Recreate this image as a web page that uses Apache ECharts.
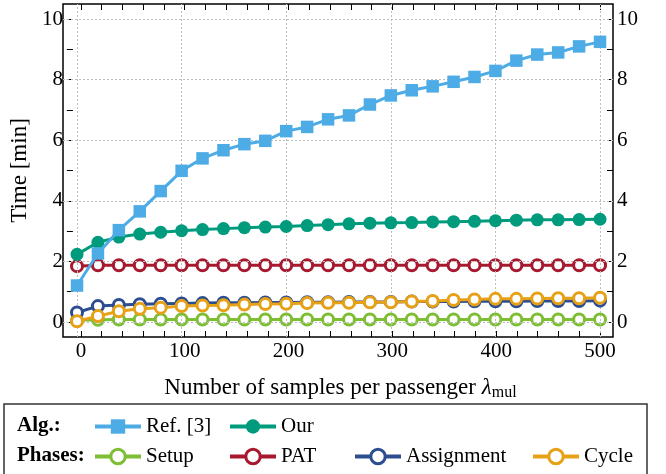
<!DOCTYPE html>
<html>
<head>
<meta charset="utf-8">
<script src="https://cdn.jsdelivr.net/npm/echarts@6/dist/echarts.min.js"></script>
<style>
  html, body { margin: 0; padding: 0; background: #fff; }
  #chart { width: 666px; height: 474px; }
</style>
</head>
<body>
<div id="chart"></div>
<script>
// samples per passenger
const samples = [0, 20, 40, 60, 80, 100, 120, 140, 160, 180, 200, 220, 240, 260, 280, 300, 320, 340, 360, 380, 400, 420, 440, 460, 480, 500];

// time in minutes
const refTimes = [1.2, 2.26, 3.03, 3.65, 4.32, 4.99, 5.4, 5.67, 5.87, 5.98, 6.3, 6.44, 6.69, 6.82, 7.18, 7.48, 7.65, 7.78, 7.93, 8.09, 8.29, 8.63, 8.83, 8.9, 9.1, 9.25];
const ourTimes = [2.23, 2.63, 2.8, 2.9, 2.96, 3.01, 3.05, 3.08, 3.11, 3.13, 3.15, 3.18, 3.21, 3.24, 3.26, 3.27, 3.28, 3.3, 3.31, 3.32, 3.34, 3.36, 3.37, 3.37, 3.38, 3.39];
const setupTimes = [0.05, 0.07, 0.08, 0.08, 0.08, 0.08, 0.08, 0.08, 0.08, 0.08, 0.08, 0.08, 0.08, 0.08, 0.08, 0.08, 0.08, 0.08, 0.08, 0.08, 0.08, 0.08, 0.08, 0.08, 0.08, 0.08];
const patTimes = [1.84, 1.87, 1.87, 1.87, 1.87, 1.87, 1.87, 1.87, 1.87, 1.87, 1.87, 1.87, 1.87, 1.87, 1.87, 1.87, 1.87, 1.87, 1.87, 1.87, 1.87, 1.87, 1.87, 1.87, 1.87, 1.87];
const assignTimes = [0.31, 0.52, 0.56, 0.58, 0.6, 0.61, 0.62, 0.63, 0.63, 0.64, 0.64, 0.65, 0.65, 0.66, 0.66, 0.66, 0.67, 0.67, 0.67, 0.68, 0.68, 0.68, 0.69, 0.69, 0.69, 0.7];
const cycleTimes = [0.02, 0.19, 0.35, 0.43, 0.47, 0.52, 0.54, 0.55, 0.57, 0.59, 0.6, 0.62, 0.63, 0.63, 0.65, 0.65, 0.67, 0.69, 0.72, 0.74, 0.76, 0.76, 0.77, 0.78, 0.78, 0.8];

// labelled values of the axes
const xTicks = [0, 100, 200, 300, 400, 500];
const yTicks = [0, 2, 4, 6, 8, 10];

const FONT = 'Liberation Serif';
const colors = {
    ref: '#4dace6',
    our: '#009b7d',
    setup: '#7dbe35',
    pat: '#a6192e',
    assign: '#2c4e91',
    cycle: '#e6a117'
};

const zip = (ys) => samples.map((x, i) => [x, ys[i]]);

const chart = echarts.init(document.getElementById('chart'), null, {renderer: 'canvas'});

function hollow(name, ys, color, z) {
    return {
        name: name,
        type: 'line',
        data: zip(ys),
        xAxisIndex: 0, yAxisIndex: 0,
        z: z,
        symbol: 'circle',
        symbolSize: 11,
        lineStyle: {color: color, width: 3},
        itemStyle: {color: '#fff', borderColor: color, borderWidth: 3},
        emphasis: {disabled: true}
    };
}

const tickStyle = {color: '#000', width: 1};

// frame grid: holds the data, a bit wider than 0..500 / 0..10
const X_MIN = -13.4, X_MAX = 512.4, Y_MIN = -0.5, Y_MAX = 10.5;

// tick grid: exactly 0..500 / 0..10, axes shifted out onto the frame
function tickX(pos, labels) {
    return {
        type: 'value', gridIndex: 1, position: pos, offset: 15,
        min: xTicks[0], max: xTicks[xTicks.length - 1], interval: 100,
        axisLine: {show: false, onZero: false},
        axisTick: {show: true, inside: true, length: 6, lineStyle: tickStyle},
        minorTick: {show: true, splitNumber: 5, length: 6, lineStyle: tickStyle},
        axisLabel: {show: labels, color: '#000', fontFamily: FONT, fontSize: 21, margin: 4},
        splitLine: {show: false}
    };
}

function tickY(pos, offset) {
    return {
        type: 'value', gridIndex: 1, position: pos, offset: offset,
        min: yTicks[0], max: yTicks[yTicks.length - 1], interval: 2,
        axisLine: {show: false, onZero: false},
        axisTick: {show: true, inside: true, length: 6, lineStyle: tickStyle},
        minorTick: {show: true, splitNumber: 2, length: 6, lineStyle: tickStyle},
        axisLabel: {color: '#000', fontFamily: FONT, fontSize: 21, margin: 4},
        splitLine: {show: false}
    };
}

const xBottom = tickX('bottom', true);
xBottom.name = 'Number of samples per passenger {l|λ}{s|mul}';
xBottom.nameLocation = 'middle';
xBottom.nameGap = 37;
xBottom.nameTextStyle = {
    color: '#000', fontFamily: FONT, fontSize: 23,
    rich: {
        l: {fontFamily: FONT, fontSize: 23, fontStyle: 'italic', color: '#000'},
        s: {fontFamily: FONT, fontSize: 16, color: '#000', padding: [11, 0, 0, 0]}
    }
};

const yLeft = tickY('left', 14);
yLeft.name = 'Time [min]';
yLeft.nameLocation = 'middle';
yLeft.nameGap = 20;
yLeft.nameTextStyle = {color: '#000', fontFamily: FONT, fontSize: 23};

const legendText = {color: '#000', fontFamily: FONT, fontSize: 21};
function legendAt(name, left, top, open) {
    return {
        data: [name], left: left, top: top,
        itemWidth: 46, itemHeight: 18, itemGap: 0,
        padding: 0,
        textStyle: legendText,
        lineStyle: {width: 4},
        itemStyle: {borderWidth: open ? 3 : 0},
        selectedMode: false
    };
}

// dashed grid at the labelled values, drawn by the axes' scales
const gridLines = xTicks.map(v => ({xAxis: v})).concat(yTicks.map(v => ({yAxis: v})));

const option = {
    animation: false,
    backgroundColor: '#fff',
    grid: [
        {left: 63, right: 53, top: 4, bottom: 137, containLabel: false,
         show: true, borderColor: '#000', borderWidth: 1.5, backgroundColor: 'transparent'},
        {left: 77, right: 66, top: 19, bottom: 152, containLabel: false}
    ],
    xAxis: [
        {type: 'value', gridIndex: 0, min: X_MIN, max: X_MAX, show: false},
        xBottom,
        tickX('top', false)
    ],
    yAxis: [
        {type: 'value', gridIndex: 0, min: Y_MIN, max: Y_MAX, show: false},
        yLeft,
        tickY('right', 13)
    ],
    legend: [
        legendAt('Ref. [3]', 93, 416, false),
        legendAt('Our', 228, 416, false),
        legendAt('Setup', 93, 446, true),
        legendAt('PAT', 228, 446, true),
        legendAt('Assignment', 353, 446, true),
        legendAt('Cycle', 531, 446, true)
    ],
    graphic: [
        {type: 'rect', shape: {x: 4, y: 404, width: 643, height: 90},
         style: {fill: 'none', stroke: '#333', lineWidth: 1.5}, silent: true},
        {type: 'text', left: 17, top: 415,
         style: {text: 'Alg.:', fill: '#000', font: 'bold 21px "Liberation Serif"'}},
        {type: 'text', left: 17, top: 445,
         style: {text: 'Phases:', fill: '#000', font: 'bold 21px "Liberation Serif"'}}
    ],
    series: [
        {
            name: 'grid', type: 'line', data: [], z: 1,
            xAxisIndex: 0, yAxisIndex: 0,
            markLine: {
                silent: true, symbol: 'none', animation: false,
                label: {show: false},
                lineStyle: {color: '#bdbdbd', type: [2, 2], width: 1},
                emphasis: {disabled: true},
                data: gridLines
            }
        },
        hollow('Setup', setupTimes, colors.setup, 3),
        hollow('PAT', patTimes, colors.pat, 4),
        hollow('Assignment', assignTimes, colors.assign, 5),
        hollow('Cycle', cycleTimes, colors.cycle, 6),
        {
            name: 'Our', type: 'line', data: zip(ourTimes), z: 7,
            xAxisIndex: 0, yAxisIndex: 0,
            symbol: 'circle', symbolSize: 13,
            lineStyle: {color: colors.our, width: 3},
            itemStyle: {color: colors.our},
            emphasis: {disabled: true}
        },
        {
            name: 'Ref. [3]', type: 'line', data: zip(refTimes), z: 8,
            xAxisIndex: 0, yAxisIndex: 0,
            symbol: 'rect', symbolSize: 12.5,
            lineStyle: {color: colors.ref, width: 3},
            itemStyle: {color: colors.ref},
            emphasis: {disabled: true}
        }
    ]
};

chart.setOption(option);
</script>
</body>
</html>
